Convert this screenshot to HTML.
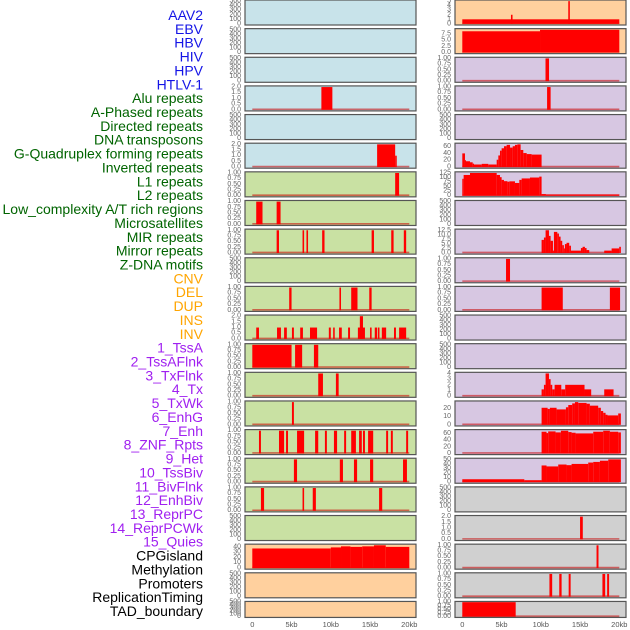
<!DOCTYPE html>
<html><head><meta charset="utf-8"><style>
html,body{margin:0;padding:0;background:#fff;}
svg{display:block;font-family:"Liberation Sans",sans-serif;}
</style></head><body>
<svg id="chart" width="630" height="630" viewBox="0 0 630 630" xmlns="http://www.w3.org/2000/svg">
<g id="labels"></g>
<g id="panels"></g>
<g id="xaxis"></g>
</svg>
<script>
// ---- data (kb intervals: [start, end, value]) ----
const trackLabels = ["AAV2","EBV","HBV","HIV","HPV","HTLV-1","Alu repeats","A-Phased repeats","Directed repeats","DNA transposons","G-Quadruplex forming repeats","Inverted repeats","L1 repeats","L2 repeats","Low_complexity A/T rich regions","Microsatellites","MIR repeats","Mirror repeats","Z-DNA motifs","CNV","DEL","DUP","INS","INV","1_TssA","2_TssAFlnk","3_TxFlnk","4_Tx","5_TxWk","6_EnhG","7_Enh","8_ZNF_Rpts","9_Het","10_TssBiv","11_BivFlnk","12_EnhBiv","13_ReprPC","14_ReprPCWk","15_Quies","CPGisland","Methylation","Promoters","ReplicationTiming","TAD_boundary"];
const labelGroups = ["v","v","v","v","v","v","r","r","r","r","r","r","r","r","r","r","r","r","r","c","c","c","c","c","s","s","s","s","s","s","s","s","s","s","s","s","s","s","s","o","o","o","o","o"];
const xTicks = [0,5,10,15,20];
const xTickLabels = ["0","5kb","10kb","15kb","20kb"];

const L3 = [[8.8,10.2,2]];
const L5 = [[15.9,18.2,2],[18.2,18.4,1]];
const L6 = [[18.2,18.7,1]];
const L7 = [[0.5,1.3,1],[3.1,3.6,1]];
const L8 = [[3.1,3.4,1],[6.4,6.6,1],[6.9,7.1,1],[8.9,9.2,1],[15.2,15.5,1],[17.7,18.0,1],[19.3,19.6,1]];
const L10 = [[4.7,5.0,1],[11.1,11.3,1],[12.6,13.4,1],[14.9,15.2,1]];
const L11 = [[0.5,0.85,1],[3.15,3.65,1],[4.05,4.4,1],[5.05,5.3,1],[6.1,6.45,1],[7.35,8.25,1],[9.75,10.0,1],[10.3,10.5,1],[11.05,11.4,1],[12.2,12.45,1],[13.45,14.35,1],[13.7,14.1,2],[15.0,15.2,1],[15.6,15.9,1],[16.0,16.2,1],[16.5,17.05,1],[18.05,18.3,1],[18.7,19.6,1]];
const L12 = [[0,5.0,1],[5.45,6.35,1],[7.85,8.4,1]];
const L13 = [[8.4,9.0,1],[10.65,11.0,1]];
const L14 = [[5.05,5.3,1]];
const L15 = [[0.85,1.1,1],[3.4,4.05,1],[4.3,4.55,1],[5.7,6.6,1],[8.0,8.4,1],[9.25,9.5,1],[10.4,10.8,1],[11.7,11.95,1],[12.6,13.2,1],[13.6,13.95,1],[14.1,14.35,1],[14.75,15.4,1],[17.05,17.3,1],[17.65,17.9,1],[19.6,19.85,1]];
const L16 = [[5.3,5.7,1],[11.15,11.55,1],[12.95,13.35,1],[15.0,15.4,1],[19.2,19.7,1]];
const L17 = [[1.1,1.5,1],[6.4,6.6,1],[7.7,8.1,1],[16.15,16.55,1]];
const L19 = [[0,10,37],[10,11.3,39],[11.3,12.5,41],[12.5,14,40],[14,15.5,41],[15.5,17,43],[17,20,40]];

const R0 = [[0,20,1],[6.2,6.4,2],[13.5,13.7,5]];
const R1 = [[0,9.9,8.5],[9.9,20,9.1]];
const R2 = [[10.6,11.05,1]];
const R3 = [[10.8,11.25,1]];
const R5 = [[0,0.34,40],[0.34,0.47,20],[0.47,0.98,17],[0.98,1.32,14],[1.32,1.49,10],[1.49,2.47,7.5],[2.47,3.31,9.4],[3.31,4.38,7.5],[4.38,4.59,21.5],[4.59,4.8,34],[4.8,5.01,48],[5.01,5.31,55],[5.31,5.65,61],[5.65,6.08,65],[6.08,6.42,57],[6.42,6.71,61],[6.71,7.01,65],[7.01,7.43,66.5],[7.43,7.77,50],[7.77,8.2,41],[8.2,8.83,38],[8.83,10.1,36.5]];
const R6 = [[0,0.17,93],[0.17,0.98,114],[0.98,4.38,125],[4.38,4.8,114],[4.8,5.01,102],[5.01,5.31,87],[5.31,5.74,80],[5.74,5.99,77],[5.99,6.71,79],[6.71,7.26,70],[7.26,7.56,87],[7.56,8.62,95],[8.62,9.8,100],[9.8,10.1,105],[10.1,10.65,9],[10.65,20,7]];
const R8 = [[10.1,10.4,7.2],[10.4,10.61,8.5],[10.61,11.04,12.5],[11.04,11.25,9.4],[11.25,11.55,6.7],[11.55,11.67,1.3],[11.67,12.1,11.6],[12.1,12.31,10.7],[12.31,12.52,9],[12.52,12.73,6.7],[12.73,12.94,4.3],[12.94,13.07,2.5],[13.07,13.28,4.9],[13.28,13.62,5.6],[13.62,13.84,4],[13.84,15.11,1.3],[15.11,15.32,2.7],[15.32,15.62,3.4],[15.62,15.83,2.7],[15.83,16.17,1.6],[18.08,19.02,1.3],[19.02,19.99,2.5],[19.99,20.2,3.4]];
const R9 = [[5.57,6.08,1]];
const R10 = [[10.1,12.8,1],[18.8,20.1,1]];
const R13 = [[10.1,10.4,1.2],[10.4,10.61,2],[10.61,11.04,4],[11.04,11.25,3],[11.25,11.46,2],[11.46,11.76,1.2],[11.76,12.61,2],[12.61,13.11,1.2],[13.11,15.57,2],[15.57,16.42,1.2],[18.08,19.27,1.2]];
const R14 = [[10.1,10.87,21],[10.87,11.16,19.6],[11.16,12.01,21],[12.01,13.2,19],[13.2,13.5,21.6],[13.5,14.0,24.4],[14.0,14.35,26.4],[14.35,14.77,28],[14.77,15.83,27],[15.83,16.25,26],[16.25,17.31,23.6],[17.31,17.65,21],[17.65,17.95,17],[17.95,18.25,14.8],[18.25,18.5,12.4],[18.5,19.86,11.6],[19.86,20.2,14]];
const R15 = [[10.1,10.73,65],[10.73,10.94,61],[10.94,11.88,66],[11.88,12.56,63],[12.56,13.5,68],[13.5,13.92,64],[13.92,14.43,62],[14.43,16.68,60],[16.68,17.95,65],[17.95,18.8,68],[18.8,19.86,65],[19.86,20.2,63]];
const R16 = [[0,7.9,6.3],[7.9,10.1,4.2],[10.1,10.73,36.6],[10.73,12.22,34.5],[12.22,13.28,38.7],[13.28,13.92,37.3],[13.92,16.04,40],[16.04,16.68,43],[16.68,17.53,44.4],[17.53,18.59,47],[18.59,20.2,50]];
const R18 = [[15.0,15.35,2]];
const R19 = [[17.1,17.35,1]];
const R20 = [[11.1,11.45,1],[12.35,12.65,1],[13.55,13.8,1],[17.85,18.2,1],[18.45,18.7,1]];
const R21 = [[0,6.8,1]];

const T500=[0,100,200,300,400,500], T1=[0,0.25,0.5,0.75,1], T2=[0,0.5,1,1.5,2];
const BLUE="#c8e3ea", GREEN="#c9e1a3", PEACH="#ffd09e", LAV="#d7c7e2", GREY="#d0d0d0";
const leftCol = [
 [BLUE,T500,500,0,null],[BLUE,T500,500,0,null],[BLUE,T500,500,0,null],[BLUE,T2,2,1,L3],[BLUE,T500,500,0,null],[BLUE,T2,2,1,L5],
 [GREEN,T1,1,2,L6],[GREEN,T1,1,2,L7],[GREEN,T1,1,2,L8],[GREEN,T500,500,0,null],[GREEN,T1,1,2,L10],[GREEN,T2,2,1,L11],
 [GREEN,T1,1,2,L12],[GREEN,T1,1,2,L13],[GREEN,T1,1,2,L14],[GREEN,T1,1,2,L15],[GREEN,T1,1,2,L16],[GREEN,T1,1,2,L17],
 [GREEN,T500,500,0,null],[PEACH,[0,10,20,30,40],43,0,L19],[PEACH,T500,500,0,null],[PEACH,T500,500,0,null]];
const rightCol = [
 [PEACH,[0,1,2,3,4,5],5,0,R0],[PEACH,[0,2.5,5,7.5],9.1,1,R1],[LAV,T1,1,2,R2],[LAV,T1,1,2,R3],[LAV,T500,500,0,null],
 [LAV,[0,20,40,60],66.5,0,R5],[LAV,[0,25,50,75,100,125],125,0,R6],[LAV,T500,500,0,null],[LAV,[0,2.5,5,7.5,10,12.5],12.5,1,R8],
 [LAV,T1,1,2,R9],[LAV,T1,1,2,R10],[LAV,T500,500,0,null],[LAV,T500,500,0,null],[LAV,[0,1,2,3,4],4,0,R13],
 [LAV,[0,10,20],28,0,R14],[LAV,[0,20,40,60],68,0,R15],[LAV,[0,10,20,30,40,50],50,0,R16],[GREY,T500,500,0,null],
 [GREY,T2,2,1,R18],[GREY,T1,1,2,R19],[GREY,T1,1,2,R20],[GREY,T1,1,2,R21]];

// ---- drawing ----
const NS="http://www.w3.org/2000/svg";
function mk(tag,attrs,parent){const e=document.createElementNS(NS,tag);for(const k in attrs)e.setAttribute(k,attrs[k]);parent.appendChild(e);return e;}
const groupColor={v:"#1414e6",r:"#006400",c:"#ffa500",s:"#a020f0",o:"#000"};
const labG=document.getElementById("labels");
trackLabels.forEach((t,i)=>{
  const e=mk("text",{x:203,y:15+i*14.9*40/43,"text-anchor":"end","dominant-baseline":"central","font-size":"14",fill:groupColor[labelGroups[i]]},labG);
  
  
  e.textContent=t;
});
const panG=document.getElementById("panels");
const PITCH=28.64;
function drawCol(col,x0,x1,d0,name){
  const xs=kb=>d0+kb*7.85;
  col.forEach((p,i)=>{
    const [bg,ticks,M,dec,marks]=p;
    const top=i*PITCH, h=(i===21)?16:25, bot=top+h;
    const ys=v=>bot-(v+0.05*M)/(1.1*M)*h;
    const g=mk("g",{},panG);
    
    
    mk("rect",{x:x0,y:top,width:x1-x0,height:h,fill:bg},g);
    if(marks){
      mk("line",{x1:xs(0),x2:xs(20),y1:ys(0)-0.5,y2:ys(0)-0.5,stroke:"rgba(200,0,0,0.55)","stroke-width":1.6},g);
      marks.forEach(m=>{
        const r=mk("rect",{x:xs(m[0]),y:ys(m[2]),width:Math.max(0.8,xs(m[1])-xs(m[0])),height:ys(0)-ys(m[2]),fill:"#ff0000"},g);
        
        
      });
    }
    mk("rect",{x:x0,y:top,width:x1-x0,height:h,fill:"none",stroke:"#555","stroke-width":1.2},g);
    ticks.forEach(t=>{
      const e=mk("text",{x:x0-4,y:ys(t),"text-anchor":"end","dominant-baseline":"central","font-size":"7",fill:"#666"},g);
      
      
      e.textContent=t.toFixed(dec);
    });
  });
  const xg=document.getElementById("xaxis");
  xTicks.forEach((t,i)=>{
    const e=mk("text",{x:xs(t),y:627,"text-anchor":"middle","font-size":"7.5",fill:"#555"},xg);
    
    
    e.textContent=xTickLabels[i];
  });
}
drawCol(leftCol,245,416,252.3,"left");
drawCol(rightCol,455,626,462.3,"right");
</script>
</body></html>
